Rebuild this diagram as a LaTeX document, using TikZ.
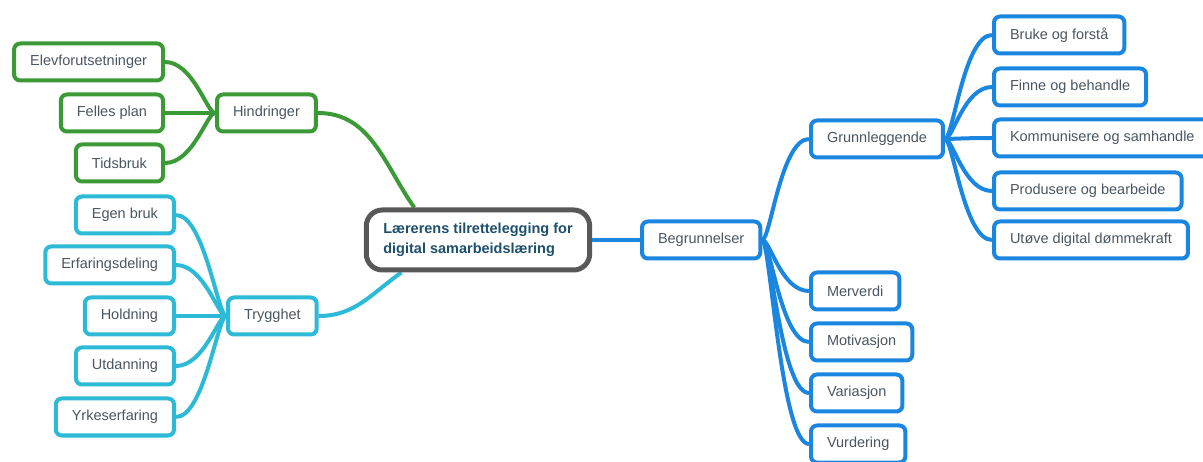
\documentclass[tikz,border=0pt]{standalone}
\usepackage{fontspec}
\setmainfont{Liberation Sans}
\usetikzlibrary{backgrounds}

% 三个分支的颜色
\definecolor{hindgreen}{RGB}{60,154,54}
\definecolor{tryggcyan}{RGB}{45,186,214}
\definecolor{begrblue}{RGB}{26,134,224}
\definecolor{kjernegra}{RGB}{88,88,88}
\definecolor{kjernetekst}{RGB}{29,79,110}
\definecolor{tekstgra}{RGB}{74,86,97}

\tikzset{
    gren/.style={draw=#1, line width=4pt, rounded corners=6pt, fill=white,
        minimum height=37pt, inner xsep=16pt, text=tekstgra,
        font=\fontsize{14.5}{17}\selectfont},
    kant/.style={draw=#1, line width=4pt},
}

\begin{document}
\begin{tikzpicture}[x=1pt, y=-1pt]
        % 坐标按像素给出(y 轴向下)
        \useasboundingbox (0,0) rectangle (1203,462);

        \node [draw=kjernegra, line width=5pt, rounded corners=16pt, fill=white,
            minimum height=60pt, inner xsep=17pt, align=left, text=kjernetekst,
            font=\fontsize{14.5}{20}\selectfont\bfseries]
            (sentrum) at (478,240) {Lærerens tilrettelegging for\\digital samarbeidslæring};

        % 左上:Hindringer
        \node [gren=hindgreen, anchor=west] (hind) at (215,113) {Hindringer};
        \node [gren=hindgreen, anchor=east] (elev) at (165,62) {Elevforutsetninger};
        \node [gren=hindgreen, anchor=east] (felles) at (165,113) {Felles plan};
        \node [gren=hindgreen, anchor=east] (tids) at (165,163) {Tidsbruk};

        % 左下:Trygghet
        \node [gren=tryggcyan, anchor=west] (trygg) at (226,316) {Trygghet};
        \node [gren=tryggcyan, anchor=east] (egen) at (176,215) {Egen bruk};
        \node [gren=tryggcyan, anchor=east] (erfaring) at (176,265) {Erfaringsdeling};
        \node [gren=tryggcyan, anchor=east] (holdning) at (176,316) {Holdning};
        \node [gren=tryggcyan, anchor=east] (utdanning) at (176,366) {Utdanning};
        \node [gren=tryggcyan, anchor=east] (yrke) at (176,417) {Yrkeserfaring};

        % 右边:Begrunnelser
        \node [gren=begrblue, anchor=west] (begr) at (640,240) {Begrunnelser};
        \node [gren=begrblue, anchor=west] (grunn) at (809,139) {Grunnleggende};
        \node [gren=begrblue, anchor=west] (merverdi) at (809,291) {Merverdi};
        \node [gren=begrblue, anchor=west] (motiv) at (809,342) {Motivasjon};
        \node [gren=begrblue, anchor=west] (variasjon) at (809,393) {Variasjon};
        \node [gren=begrblue, anchor=west] (vurdering) at (809,444) {Vurdering};

        \node [gren=begrblue, anchor=west] (bruke) at (992,35) {Bruke og forstå};
        \node [gren=begrblue, anchor=west] (finne) at (992,87) {Finne og behandle};
        \node [gren=begrblue, anchor=west] (komm) at (992,138) {Kommunisere og samhandle};
        \node [gren=begrblue, anchor=west] (prod) at (992,191) {Produsere og bearbeide};
        \node [gren=begrblue, anchor=west] (utove) at (992,240) {Utøve digital dømmekraft};

        % 连线放在背景层;靠近父节点处弯得急,靠近子节点处水平进入
        \begin{scope}[on background layer]
            \draw[kant=hindgreen] (hind.east) to[out=0, in=125] (sentrum.153);
            \foreach \n in {elev, felles, tids}
                \draw[kant=hindgreen] (hind.west) .. controls +(-8,0) and +(28,0) .. (\n.east);

            \draw[kant=tryggcyan] (trygg.east) to[out=0, in=215] (sentrum.203);
            \foreach \n in {egen, erfaring, holdning, utdanning, yrke}
                \draw[kant=tryggcyan] (trygg.west) .. controls +(-8,0) and +(28,0) .. (\n.east);

            \draw[kant=begrblue] (sentrum.east) -- (begr.west);
            \foreach \n in {grunn, merverdi, motiv, variasjon, vurdering}
                \draw[kant=begrblue] (begr.east) .. controls +(8,0) and +(-28,0) .. (\n.west);
            \foreach \n in {bruke, finne, komm, prod, utove}
                \draw[kant=begrblue] (grunn.east) .. controls +(8,0) and +(-28,0) .. (\n.west);
        \end{scope}
    \end{tikzpicture}
\end{document}
